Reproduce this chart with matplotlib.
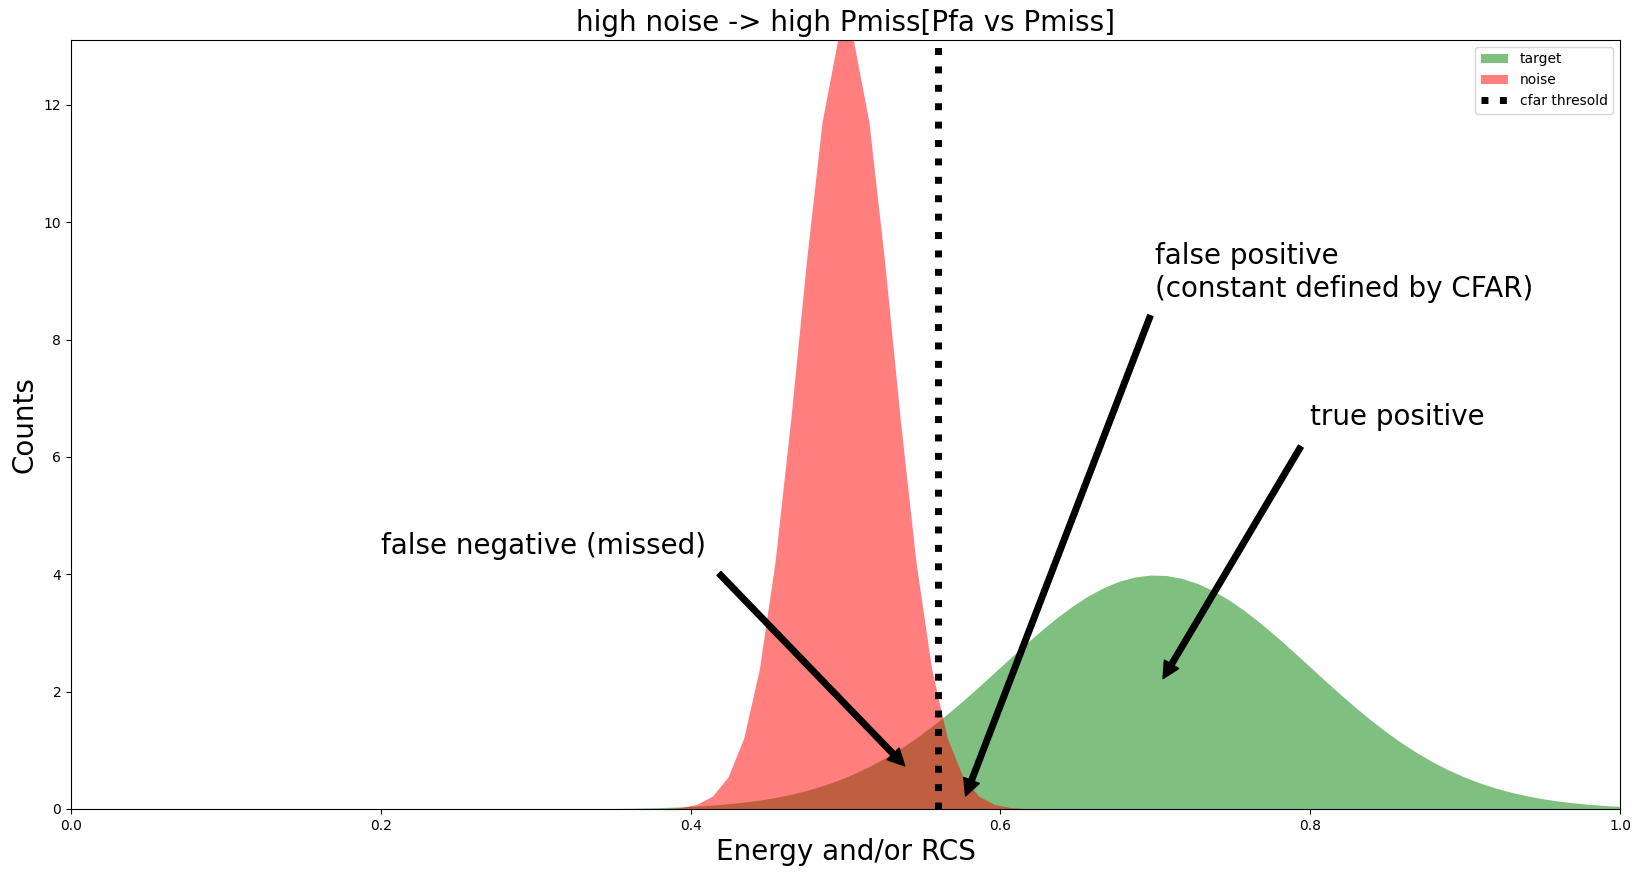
import numpy as np
import matplotlib
matplotlib.use("Agg")
import matplotlib.pyplot as plt

x = np.linspace(0, 1, 100)

target = [
    0, 0, 0, 0, 0, 0, 0, 0, 0, 0,
    0, 0, 0, 0, 0, 0, 0, 0, 0, 0,
    0, 0, 0, 0, 0, 0, 0.0003, 0.0004, 0.0007, 0.0010,
    0.0015, 0.0022, 0.0033, 0.0048, 0.0069, 0.0099, 0.0139, 0.0195, 0.0269, 0.0369,
    0.0500, 0.0671, 0.0890, 0.1170, 0.1523, 0.1962, 0.2501, 0.3156, 0.3943, 0.4874,
    0.5964, 0.7227, 0.8665, 1.0286, 1.2084, 1.4055, 1.6181, 1.8439, 2.0797, 2.3220,
    2.5663, 2.8071, 3.0397, 3.2581, 3.4568, 3.6304, 3.7737, 3.8831, 3.9552, 3.9876,
    3.9795, 3.9311, 3.8438, 3.7204, 3.5643, 3.3800, 3.1728, 2.9481, 2.7115, 2.4686,
    2.2246, 1.9844, 1.7522, 1.5314, 1.3250, 1.1345, 0.9616, 0.8068, 0.6701, 0.5509,
    0.4483, 0.3611, 0.2879, 0.2273, 0.1776, 0.1373, 0.1051, 0.0796, 0.0597, 0.0443,
]

noise = [
    0, 0, 0, 0, 0, 0, 0, 0, 0, 0,
    0, 0, 0, 0, 0, 0, 0, 0, 0, 0,
    0, 0, 0, 0, 0, 0, 0, 0, 0, 0,
    0, 0, 0, 0, 0, 0, 0.0004, 0.0019, 0.0074, 0.0257,
    0.0798, 0.2215, 0.5486, 1.213, 2.394, 4.220, 6.641, 9.331, 11.706, 13.111,
    13.111, 11.706, 9.331, 6.641, 4.220, 2.394, 1.213, 0.5486, 0.2215, 0.0798,
    0.0257, 0.0074, 0.0019, 0.0004, 0, 0, 0, 0, 0, 0,
    0, 0, 0, 0, 0, 0, 0, 0, 0, 0,
    0, 0, 0, 0, 0, 0, 0, 0, 0, 0,
    0, 0, 0, 0, 0, 0, 0, 0, 0, 0,
]

threshold = 0.56

fig = plt.figure(figsize=(16.41, 8.77), dpi=100)
ax = fig.add_axes([71 / 1641, 68 / 877, 1549 / 1641, 769.2 / 877])

ax.fill_between(x, target, color="green", alpha=0.5, linewidth=0, label="target")
ax.fill_between(x, noise, color="red", alpha=0.5, linewidth=0, label="noise")
ax.axvline(threshold, color="black", linestyle=":", linewidth=5, label="cfar thresold")

ax.set_xlim(0, 1)
ax.set_ylim(0, max(noise))

arrow = dict(facecolor="black", shrink=0.05)
ax.annotate("false negative (missed)", xy=(0.545, 0.55), xytext=(0.2, 4.35),
            fontsize=20, arrowprops=arrow)
ax.annotate("true positive", xy=(0.7, 2.0), xytext=(0.8, 6.55),
            fontsize=20, arrowprops=arrow)
ax.annotate("false positive\n(constant defined by CFAR)", xy=(0.575, 0.05),
            xytext=(0.7, 8.73), fontsize=20,
            arrowprops=dict(facecolor="black", shrink=0.02))

ax.set_title("high noise -> high Pmiss[Pfa vs Pmiss]", fontsize=20)
ax.set_xlabel("Energy and/or RCS", fontsize=20)
ax.set_ylabel("Counts", fontsize=20)
ax.legend(loc="upper right")

fig.savefig("out.png", dpi=100)
